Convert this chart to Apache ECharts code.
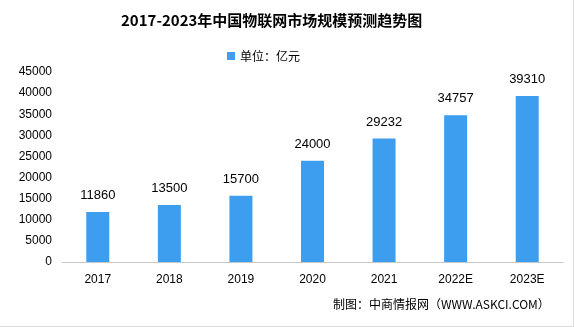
<!DOCTYPE html>
<html><head><meta charset="utf-8">
<script src="https://cdn.jsdelivr.net/npm/echarts@6/dist/echarts.min.js"></script>
<style>html,body{margin:0;padding:0;background:#fff}#c{width:574px;height:327px;box-sizing:border-box;border-right:1px solid #ddd;border-bottom:1px solid #ddd}</style>
</head><body><div id="c"></div>
<script>
const categories = ['2017','2018','2019','2020','2021','2022E','2023E'];
const values = [11860,13500,15700,24000,29232,34757,39310];
const seriesName = '单位：亿元';
const titleText = '2017-2023年中国物联网市场规模预测趋势图';
const sourceText = '制图：中商情报网（WWW.ASKCI.COM）';
const chart = echarts.init(document.getElementById('c'));
const font = '"Liberation Sans","Noto Sans CJK SC",sans-serif';
chart.setOption({
  animation:false,
  title:{text:titleText,left:116,top:8,textStyle:{fontSize:15,fontWeight:'bold',color:'#000',fontFamily:'"Noto Sans CJK SC",serif'}},
  legend:{data:[seriesName],top:45,left:222,itemWidth:8,itemHeight:8,icon:'rect',itemGap:5,
    textStyle:{fontSize:12,color:'#000',fontFamily:'"Noto Sans CJK SC",sans-serif'}},
  graphic:[{type:'text',left:333,top:298,style:{text:sourceText,fontSize:12,fill:'#000',fontFamily:'"Noto Sans CJK SC",sans-serif'}}],
  grid:{left:62,right:10,top:72,bottom:64},
  xAxis:{type:'category',data:categories,axisTick:{show:false},
    axisLine:{lineStyle:{color:'#c8c8c8'}},
    axisLabel:{color:'#000',fontSize:12,margin:12,fontFamily:font}},
  yAxis:{type:'value',min:0,max:45000,interval:5000,splitLine:{show:false},
    axisLine:{show:false},axisTick:{show:false},
    axisLabel:{color:'#000',fontSize:12,margin:10,fontFamily:font,formatter:v=>String(v)}},
  series:[{name:seriesName,type:'bar',data:values,barWidth:23,itemStyle:{color:'#3d9ef0'},
    label:{show:true,position:'top',distance:10,color:'#000',fontSize:13,fontFamily:font}}]
});
</script></body></html>
